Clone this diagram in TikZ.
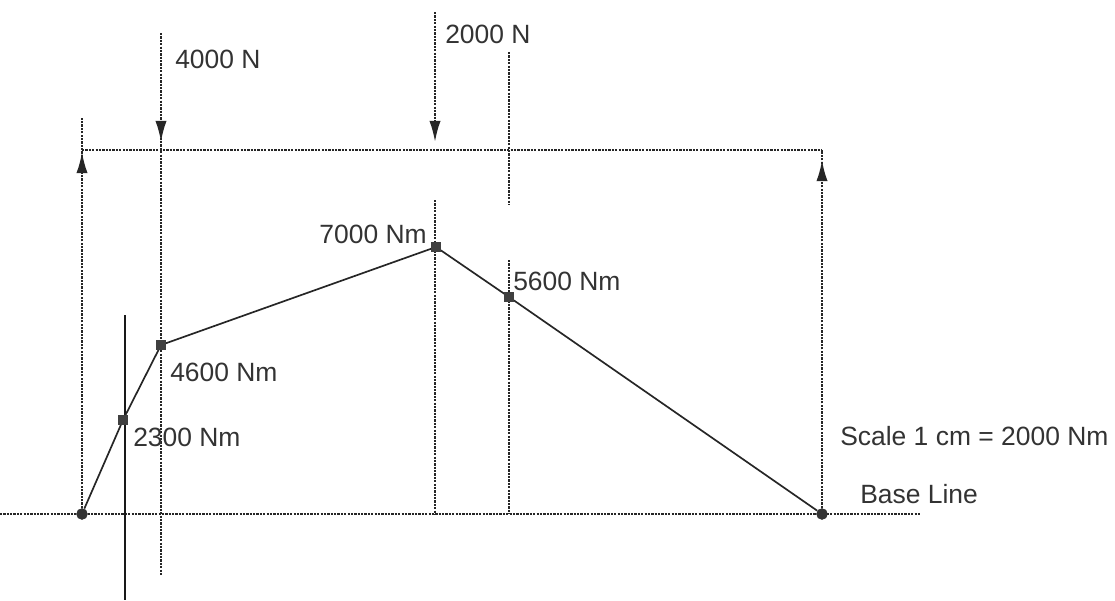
\documentclass[tikz,border=0pt]{standalone}
\usepackage{fontspec}
\setmainfont{Liberation Sans}
\usetikzlibrary{arrows.meta}
\begin{document}
\begin{tikzpicture}[
        x=0.025cm, y=-0.025cm,
        support/.style = {circle, fill=black!80, inner sep=0pt, minimum size=8pt},
        mpt/.style = {rectangle, fill=black!75, inner sep=0pt, minimum size=6.5pt},
        txt/.style = {font=\fontsize{18.8}{22}\selectfont, text=black!80, inner sep=0pt},
        con/.style = {line width=1.5pt, black!85, dash pattern=on 1.6pt off 0.8pt},
        frc/.style = {con, -{Latex[length=15pt,width=8pt]}},
        thin
    ]
        \useasboundingbox (0,0) rectangle (1115,600);
        % supports and points of the bending moment diagram
        \node[support] (A) at (82,514) {};
        \node[support] (B) at (822,514) {};
        \node[mpt] (m1) at (123,420) {};
        \node[mpt] (m2) at (161,345) {};
        \node[mpt] (m3) at (436,247) {};
        \node[mpt] (m4) at (509,297) {};
        % ends of the construction lines
        \coordinate (bl) at (0,514);
        \coordinate (br) at (921,514);
        \coordinate (tl) at (82,150);
        \coordinate (tr) at (822,150);
        \coordinate (ra) at (82,118);
        \coordinate (rb) at (822,150);
        \coordinate (f1) at (161,33);
        \coordinate (f1b) at (161,575);
        \coordinate (f2) at (435,12);
        \coordinate (f2b) at (435,200);
        \coordinate (v1) at (509,52);
        \coordinate (v1b) at (509,205);
        \coordinate (v2) at (509,260);
        \coordinate (s1) at (125,315);
        \coordinate (s1b) at (125,600);
        % construction lines
        \draw[con] (bl) -- (br);
        \draw[con] (tl) -- (tr);
        \draw[con] (A) -- (ra);
        \draw[frc] (A) -- (82,152);
        \draw[con] (B) -- (rb);
        \draw[frc] (B) -- (822,160);
        \draw[con] (f1) -- (f1b);
        \draw[frc] (f1) -- (161,142);
        \draw[frc] (f2) -- (435,142);
        \draw[con] (f2b) -- (435,514);
        \draw[con] (v1) -- (v1b);
        \draw[con] (v2) -- (509,514);
        \draw[line width=1.2pt, black!90] (s1) -- (s1b);
        % moment polygon
        \draw[line width=1.2pt, black!85] (A) -- (m1) -- (m2) -- (m3) -- (m4) -- (B);
        \node[support] at (A) {};
        \node[support] at (B) {};
        \foreach \p in {m1,m2,m3,m4} \node[mpt] at (\p) {};
        % labels
        \node[txt, anchor=west] (l1) at (175,59) {4000 N};
        \node[txt, anchor=west] (l2) at (445,34) {2000 N};
        \node[txt, anchor=east] (l3) at (427,234) {7000 Nm};
        \node[txt, anchor=west] (l4) at (513,281) {5600 Nm};
        \node[txt, anchor=west] (l5) at (170,372) {4600 Nm};
        \node[txt, anchor=west] (l6) at (133,437) {2300 Nm};
        \node[txt, anchor=west] (sc) at (840,436) {Scale 1 cm = 2000 Nm};
        \node[txt, anchor=west] (bs) at (860,494) {Base Line};
\end{tikzpicture}
\end{document}
